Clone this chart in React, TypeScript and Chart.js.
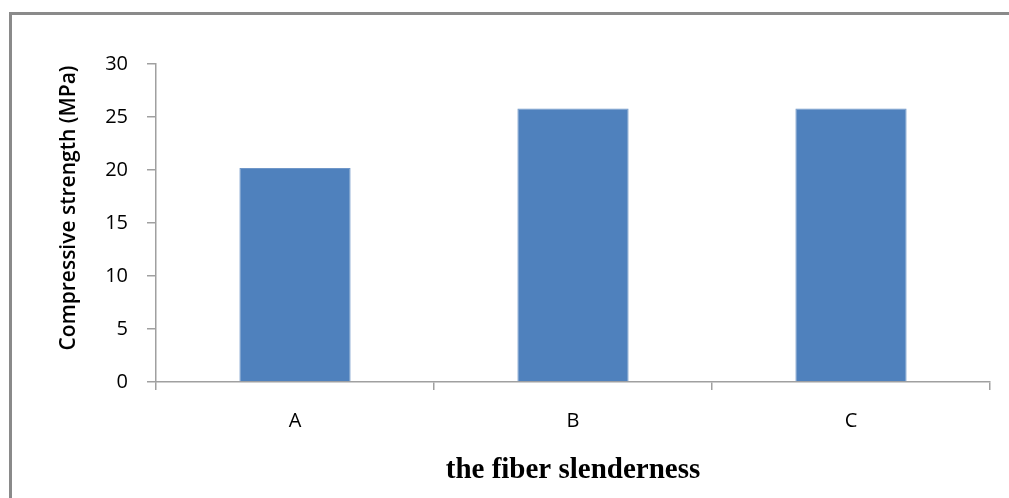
import React, { useEffect, useRef } from "react";
import { Chart, registerables } from "chart.js";

Chart.register(...registerables);

const categories = ["A", "B", "C"];
const strengthValues = [20.2, 25.8, 25.8];
const yTicks = [0, 5, 10, 15, 20, 25, 30];
const yTitle = "Compressive strength (MPa)";
const xTitle = "the fiber slenderness";

const framePlugin = {
  id: "frame",
  beforeDraw(chart: any) {
    const ctx = chart.ctx;
    ctx.save();
    ctx.strokeStyle = "#8a8a8a";
    ctx.lineWidth = 3;
    ctx.beginPath();
    ctx.moveTo(10.5, 1100);
    ctx.lineTo(10.5, 13.5);
    ctx.lineTo(1100, 13.5);
    ctx.stroke();
    ctx.restore();
  },
};

const yTitlePlugin = {
  id: "yTitle",
  afterDraw(chart: any) {
    const ctx = chart.ctx;
    const area = chart.chartArea;
    ctx.save();
    ctx.translate(69, (area.top + area.bottom) / 2 - 15);
    ctx.rotate(-Math.PI / 2);
    ctx.font = "600 21px 'Open Sans', sans-serif";
    ctx.fillStyle = "#000";
    ctx.textAlign = "center";
    ctx.textBaseline = "middle";
    ctx.fillText(yTitle, 0, 0);
    ctx.restore();
  },
};

export default function App() {
  const ref = useRef<HTMLCanvasElement | null>(null);
  useEffect(() => {
    let chart: any = null;
    let cancelled = false;
    const fontsReady = Promise.all([
      document.fonts.load("20px 'Open Sans'"),
      document.fonts.load("600 21px 'Open Sans'"),
      document.fonts.load("bold 29px 'Liberation Serif'"),
    ]).catch(() => null);
    fontsReady.then(() => {
      if (cancelled || !ref.current) return;
      chart = new Chart(ref.current, {
        type: "bar",
        data: {
          labels: categories,
          datasets: [
            {
              data: strengthValues,
              backgroundColor: "#4F81BD",
              borderColor: "#6F96C8",
              borderWidth: 1,
              barPercentage: 0.4,
              categoryPercentage: 1,
            },
          ],
        },
        options: {
          animation: false,
          responsive: false,
          maintainAspectRatio: false,
          layout: { padding: { left: 10, top: 64, right: 19, bottom: 0 } },
          plugins: { legend: { display: false }, tooltip: { enabled: false } },
          scales: {
            x: {
              grid: {
                display: true,
                offset: true,
                drawOnChartArea: false,
                drawTicks: true,
                tickLength: 8,
                color: "#a0a0a0",
                lineWidth: 1.5,
              },
              border: { display: true, color: "#a0a0a0", width: 1.5 },
              ticks: {
                color: "#000",
                font: { family: "'Open Sans', sans-serif", size: 20 },
                padding: 19,
              },
              title: {
                display: true,
                text: xTitle,
                color: "#000",
                font: { family: "'Liberation Serif', serif", size: 29, weight: "bold" },
                padding: { top: 10, bottom: 10 },
              },
              afterFit(scale: any) {
                scale.height = 498 - 382;
              },
            },
            y: {
              min: 0,
              max: 30,
              afterBuildTicks(scale: any) {
                scale.ticks = yTicks.map((v) => ({ value: v }));
              },
              grid: {
                display: true,
                drawOnChartArea: false,
                drawTicks: true,
                tickLength: 9,
                color: "#a0a0a0",
                lineWidth: 1.5,
              },
              border: { display: true, color: "#a0a0a0", width: 1.5 },
              ticks: {
                color: "#000",
                font: { family: "'Open Sans', sans-serif", size: 20 },
                padding: 19,
              },
              title: { display: false },
              afterFit(scale: any) {
                scale.width = 156 - 10;
              },
            },
          },
        },
        plugins: [framePlugin, yTitlePlugin],
      } as any);
    });
    return () => {
      cancelled = true;
      if (chart) chart.destroy();
    };
  }, []);
  return (
    <div style={{ position: "fixed", left: 0, top: 0, width: 1009, height: 498, background: "#fff" }}>
      <canvas ref={ref} width={1009} height={498} style={{ width: 1009, height: 498 }} />
    </div>
  );
}
